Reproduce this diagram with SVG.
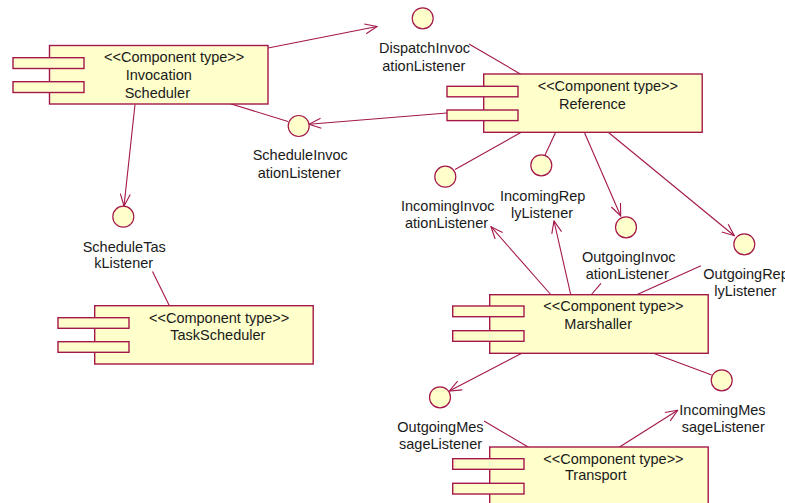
<svg xmlns="http://www.w3.org/2000/svg" width="785" height="503" viewBox="0 0 785 503">
  <style>
    .body { fill: #ffffcc; stroke: #a3174a; stroke-width: 1.4; }
    .tab { fill: #ffffcc; stroke: #a3174a; stroke-width: 1.4; }
    .iface { fill: #ffffcc; stroke: #a3174a; stroke-width: 1.2; }
    .conn { fill: none; stroke: #a3174a; stroke-width: 1.1; }
    text { font-family: "Liberation Sans", Arial, sans-serif; font-size: 14.5px; fill: #1a1a1a; }
  </style>
  <defs>
    <marker id="open" viewBox="0 0 14 12" refX="13" refY="6" markerWidth="14" markerHeight="12" markerUnits="userSpaceOnUse" orient="auto">
      <path d="M1,1 L13,6 L1,11" fill="none" stroke="#a3174a" stroke-width="1.1"/>
    </marker>
  </defs>

  <!-- connectors -->
  <g id="connectors">
    <line class="conn" x1="263" y1="49" x2="377" y2="26.5" marker-end="url(#open)"/>
    <line class="conn" x1="469" y1="44" x2="522" y2="75"/>
    <line class="conn" x1="453" y1="112.5" x2="309" y2="124.3" marker-end="url(#open)"/>
    <line class="conn" x1="228" y1="103" x2="288" y2="121.5"/>
    <line class="conn" x1="135" y1="104.5" x2="124" y2="206" marker-end="url(#open)"/>
    <line class="conn" x1="152.5" y1="271.5" x2="169.5" y2="306"/>
    <line class="conn" x1="523.5" y1="131" x2="455" y2="169.5"/>
    <line class="conn" x1="556" y1="131.5" x2="545" y2="155"/>
    <line class="conn" x1="584" y1="131.5" x2="620.7" y2="216" marker-end="url(#open)"/>
    <line class="conn" x1="606.7" y1="131" x2="734.3" y2="235.7" marker-end="url(#open)"/>
    <line class="conn" x1="550.7" y1="294.5" x2="491" y2="226.7" marker-end="url(#open)"/>
    <line class="conn" x1="570.7" y1="294.5" x2="554" y2="221" marker-end="url(#open)"/>
    <line class="conn" x1="601" y1="283.3" x2="591" y2="295"/>
    <line class="conn" x1="701" y1="265.7" x2="635" y2="295.5"/>
    <line class="conn" x1="523.3" y1="352.5" x2="449.3" y2="391" marker-end="url(#open)"/>
    <line class="conn" x1="649.3" y1="351.7" x2="711.7" y2="375"/>
    <line class="conn" x1="484" y1="421" x2="529" y2="447.5"/>
    <line class="conn" x1="618.7" y1="447.5" x2="677.7" y2="410.3" marker-end="url(#open)"/>
  </g>

  <!-- components -->
  <g id="invocation-scheduler">
    <rect class="body" x="49.5" y="45.5" width="218.5" height="58.5"/>
    <rect class="tab" x="13" y="57.7" width="71" height="10.8"/>
    <rect class="tab" x="13" y="81.7" width="71" height="10.8"/>
    <text x="104" y="62">&lt;&lt;Component type&gt;&gt;</text>
    <text x="125.7" y="80">Invocation</text>
    <text x="124.7" y="97.7">Scheduler</text>
  </g>

  <g id="reference">
    <rect class="body" x="483.7" y="74" width="218.5" height="58.3"/>
    <rect class="tab" x="447" y="86.3" width="71" height="10.5"/>
    <rect class="tab" x="447" y="110" width="71" height="10.6"/>
    <text x="537.7" y="91">&lt;&lt;Component type&gt;&gt;</text>
    <text x="559" y="108.7">Reference</text>
  </g>

  <g id="task-scheduler">
    <rect class="body" x="94.7" y="305.7" width="218.5" height="58.3"/>
    <rect class="tab" x="58" y="317.7" width="71" height="10.6"/>
    <rect class="tab" x="58" y="341.7" width="71" height="10.6"/>
    <text x="149" y="323.3">&lt;&lt;Component type&gt;&gt;</text>
    <text x="170.3" y="340">TaskScheduler</text>
  </g>

  <g id="marshaller">
    <rect class="body" x="489.7" y="294.7" width="218.5" height="58.6"/>
    <rect class="tab" x="452.7" y="306" width="71.3" height="10.7"/>
    <rect class="tab" x="452.7" y="330.7" width="71.3" height="10.6"/>
    <text x="543.3" y="311">&lt;&lt;Component type&gt;&gt;</text>
    <text x="564.3" y="328.7">Marshaller</text>
  </g>

  <g id="transport">
    <rect class="body" x="489.7" y="447" width="218.5" height="58.5"/>
    <rect class="tab" x="452.7" y="458.7" width="71.3" height="10.6"/>
    <rect class="tab" x="452.7" y="483.3" width="71.3" height="10.7"/>
    <text x="543.3" y="464.3">&lt;&lt;Component type&gt;&gt;</text>
    <text x="565" y="480.3">Transport</text>
  </g>

  <!-- interfaces -->
  <g id="dispatch-invocation-listener">
    <circle class="iface" cx="422.7" cy="18.3" r="10.5"/>
    <text x="379" y="53.3">DispatchInvoc</text>
    <text x="382.3" y="71">ationListener</text>
  </g>

  <g id="schedule-invocation-listener">
    <circle class="iface" cx="298.7" cy="126" r="10.5"/>
    <text x="252.7" y="160">ScheduleInvoc</text>
    <text x="257.7" y="177.7">ationListener</text>
  </g>

  <g id="schedule-task-listener">
    <circle class="iface" cx="123.3" cy="216.7" r="10.5"/>
    <text x="82.7" y="251.7">ScheduleTas</text>
    <text x="94.3" y="268.3">kListener</text>
  </g>

  <g id="incoming-invocation-listener">
    <circle class="iface" cx="445.3" cy="176.7" r="10.5"/>
    <text x="401" y="211">IncomingInvoc</text>
    <text x="405" y="228.3">ationListener</text>
  </g>

  <g id="incoming-reply-listener">
    <circle class="iface" cx="541.3" cy="165.3" r="10.5"/>
    <text x="500" y="200.7">IncomingRep</text>
    <text x="511" y="217.7">lyListener</text>
  </g>

  <g id="outgoing-invocation-listener">
    <circle class="iface" cx="626" cy="227.3" r="10.5"/>
    <text x="582" y="262">OutgoingInvoc</text>
    <text x="585.7" y="279.3">ationListener</text>
  </g>

  <g id="outgoing-reply-listener">
    <circle class="iface" cx="744.3" cy="244.3" r="10.5"/>
    <text x="703.3" y="279">OutgoingRep</text>
    <text x="714.3" y="296">lyListener</text>
  </g>

  <g id="outgoing-message-listener">
    <circle class="iface" cx="440" cy="397.3" r="10.5"/>
    <text x="397.3" y="432.3">OutgoingMes</text>
    <text x="399" y="449">sageListener</text>
  </g>

  <g id="incoming-message-listener">
    <circle class="iface" cx="721.7" cy="380.3" r="10.5"/>
    <text x="679.3" y="415.3">IncomingMes</text>
    <text x="681.7" y="432.3">sageListener</text>
  </g>
</svg>
